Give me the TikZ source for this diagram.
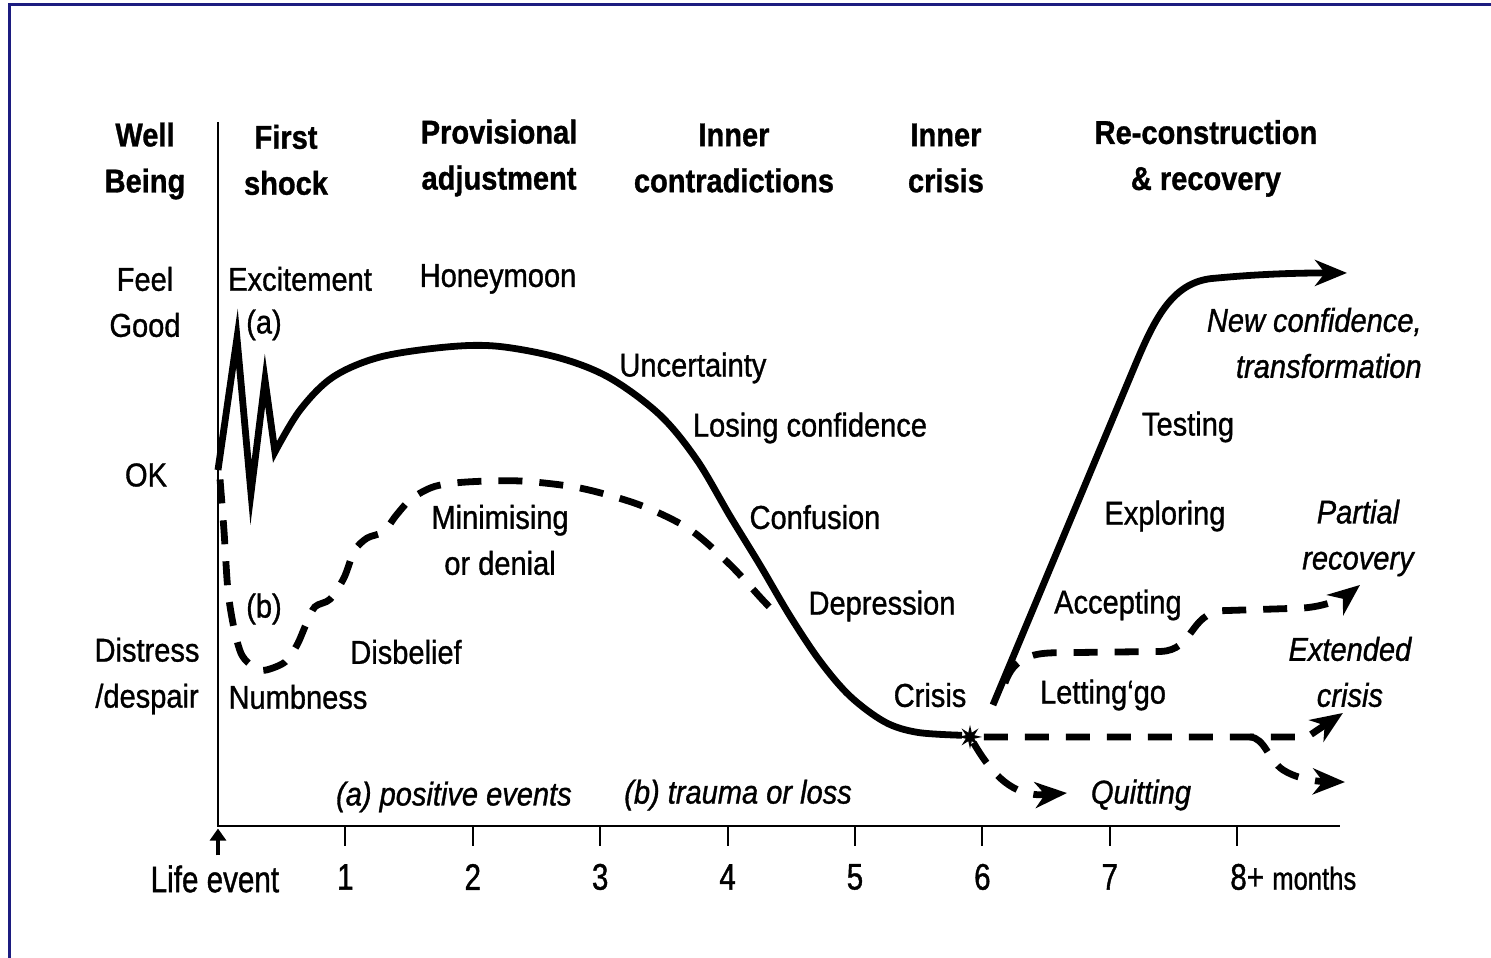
\documentclass[tikz,border=0pt]{standalone}
\usepackage{fontspec}
\setmainfont{Liberation Sans}[FakeStretch=0.88,FakeBold=1.0]
\newfontfamily\axisfont{Liberation Sans}[FakeStretch=0.80,FakeBold=1.0]
\usetikzlibrary{arrows.meta,shapes.geometric}
\definecolor{frameblue}{RGB}{28,28,128}
\newcommand{\arw}{-{Stealth[length=16pt,width=13pt,inset=5pt]}}
\newcommand{\lbl}{\fontsize{16.5}{23}\selectfont}

\begin{document}
\begin{tikzpicture}[x=63.7pt,y=63.7pt,
  curve/.style={line width=3.4pt},
  dcurve/.style={line width=3.4pt,dash pattern=on 12pt off 8.5pt},
  txt/.style={font=\lbl,align=center,inner sep=0pt},
  head/.style={font=\lbl\bfseries,align=center,inner sep=0pt},
  ital/.style={font=\lbl\itshape,align=center,inner sep=0pt},
  num/.style={font=\axisfont\fontsize{18.5}{20}\selectfont,inner sep=0pt}]
\useasboundingbox (-1.7111,-1.0361) rectangle (9.9922,6.4835);
\draw[frameblue,line width=1.5pt] (-1.633,-1.0361) -- (-1.633,6.452) -- (9.9922,6.452);

% axes, x in months
\draw[line width=1pt] (0,5.526) -- (0,0) -- (8.807,0);
\foreach \m in {1,...,8}
  \draw[line width=1pt] (\m,0) -- (\m,-0.157);
\foreach \m in {1,...,7}
  \node[num] (m\m) at (\m,-0.40) {\m};
\node[num,anchor=west] (m8) at (7.943,-0.40) {8+ {\fontsize{16}{16}\selectfont months}};
\node[num] (event) at (-0.024,-0.416) {Life event};
\draw[line width=2pt,-{Triangle[length=6pt,width=8pt]}] (0,-0.23) -- (0,-0.02);

% stages
\node[head] (hwell) at (-0.573,5.220) {Well\\Being};
\node[head] (hshock) at (0.534,5.228) {First\\shock};
\node[head] (hadjust) at (2.206,5.243) {Provisional\\adjustment};
\node[head] (hcontra) at (4.050,5.243) {Inner\\contradictions};
\node[head] (hcrisis) at (5.714,5.243) {Inner\\crisis};
\node[head] (hrecov) at (7.755,5.240) {Re-construction\\\& recovery};

% well being levels
\node[txt] (feel) at (-0.573,4.113) {Feel\\Good};
\node[txt] (ok) at (-0.565,2.755) {OK};
\node[txt] (despair) at (-0.557,1.177) {Distress\\/despair};

% (a) positive events
\draw[curve] (0,2.794) -- (0.149,3.830) -- (0.259,2.614) -- (0.369,3.501) -- (0.447,2.936)
  -- plot[smooth,tension=0.55] coordinates {(0.447,2.936) (0.644,3.265) (0.903,3.524)
  (1.272,3.681) (1.797,3.760) (2.2,3.765) (2.684,3.673) (3.077,3.516) (3.469,3.226)
  (3.759,2.873) (4.019,2.433) (4.254,2.049) (4.490,1.648) (4.725,1.295) (4.96,1.02)
  (5.235,0.816) (5.49,0.735) (5.84,0.712)};

% (b) trauma or loss
\draw[dcurve] plot[smooth,tension=0.5] coordinates {(0.016,2.72) (0.047,2.32)
  (0.078,1.85) (0.126,1.55) (0.188,1.34) (0.29,1.24) (0.377,1.224) (0.526,1.287)
  (0.62,1.42) (0.69,1.58) (0.76,1.72) (0.88,1.78) (0.99,1.95) (1.07,2.16) (1.17,2.26)
  (1.30,2.31) (1.40,2.44) (1.52,2.57) (1.70,2.665) (1.95,2.70) (2.37,2.708) (2.84,2.653)
  (3.31,2.52) (3.70,2.33) (4.02,2.05) (4.27,1.78) (4.41,1.633)};

\node[txt] (excite) at (0.644,4.294) {Excitement};
\node[txt] (a) at (0.361,3.933) {(a)};
\node[txt] (honey) at (2.198,4.294) {Honeymoon};
\node[txt] (uncert) at (3.728,3.595) {Uncertainty};
\node[txt] (losing) at (4.647,3.124) {Losing confidence};
\node[txt] (confus) at (4.686,2.425) {Confusion};
\node[txt] (depres) at (5.212,1.727) {Depression};
\node[txt] (crisis) at (5.589,1.028) {Crisis};
\node[txt] (denial) at (2.214,2.245) {Minimising\\or denial};
\node[txt] (b) at (0.361,1.703) {(b)};
\node[txt] (disbel) at (1.476,1.366) {Disbelief};
\node[txt] (numb) at (0.628,1.013) {Numbness};
\node[txt] (letgo) at (6.947,1.028) {Letting`go};
\node[txt] (accept) at (7.064,1.735) {Accepting};
\node[txt] (explore) at (7.433,2.433) {Exploring};
\node[txt] (test) at (7.614,3.132) {Testing};

\node[ital] (pos) at (1.852,0.228) {(a) positive events};
\node[ital] (loss) at (4.082,0.243) {(b) trauma or loss};
\node[ital] (quit) at (7.245,0.243) {Quitting};
\node[ital,anchor=east,align=right] (newconf) at (9.451,3.791) {New confidence,\\transformation};
\node[ital] (partial) at (8.948,2.261) {Partial\\recovery};
\node[ital] (extend) at (8.885,1.209) {Extended\\crisis};

% turning point and the ways out of it
\node[star,star points=8,star point ratio=2.6,fill,inner sep=0pt,minimum size=12pt] (turn) at (5.903,0.699) {};
\coordinate (split) at (8.10,0.699);
\draw[curve,\arw] (6.083,0.95) -- (7.20,3.62) .. controls (7.36,4.0) and (7.5,4.28) .. (7.83,4.30)
  .. controls (8.2,4.335) and (8.5,4.341) .. (8.862,4.341);
\draw[dcurve,\arw] (6.177,1.122) .. controls (6.25,1.33) and (6.4,1.36) .. (6.6,1.36)
  -- (7.40,1.37) .. controls (7.66,1.38) and (7.62,1.66) .. (7.88,1.69)
  -- (8.5,1.71) .. controls (8.7,1.72) and (8.85,1.8) .. (8.964,1.892);
\draw[dcurve,\arw] (turn) -- (8.55,0.699) -- (8.83,0.887);
\draw[dcurve,\arw] (split) .. controls (8.22,0.69) and (8.24,0.52) .. (8.36,0.44)
  .. controls (8.45,0.38) and (8.6,0.35) .. (8.846,0.345);
\draw[dcurve,\arw] (turn) .. controls (6.05,0.45) and (6.2,0.25) .. (6.45,0.245) -- (6.664,0.259);
\end{tikzpicture}
\end{document}
